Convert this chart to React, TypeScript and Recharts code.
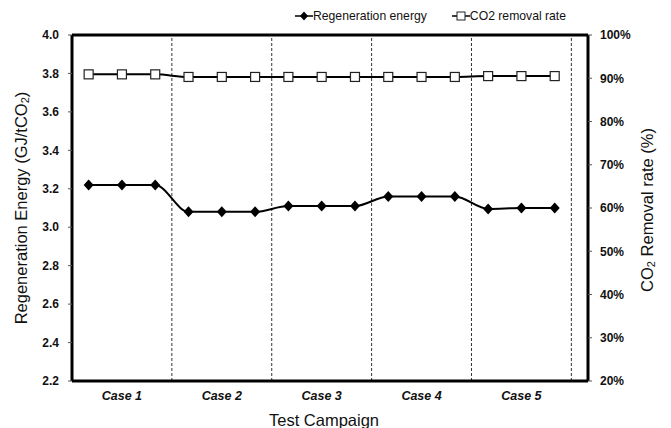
import React from "react";
import { LineChart, Line, XAxis, YAxis, ReferenceLine } from "recharts";

const cases = ["Case 1", "Case 2", "Case 3", "Case 4", "Case 5"];
const runIndex = [0, 1, 2, 3, 4, 5, 6, 7, 8, 9, 10, 11, 12, 13, 14];
const regenEnergy = [3.22, 3.22, 3.22, 3.08, 3.08, 3.08, 3.11, 3.11, 3.11, 3.16, 3.16, 3.16, 3.095, 3.1, 3.1];
const co2Removal = [90.9, 90.9, 90.9, 90.3, 90.3, 90.3, 90.3, 90.3, 90.3, 90.3, 90.3, 90.3, 90.5, 90.5, 90.5];
const caseTicks = [1, 4, 7, 10, 13];
const caseDividers = [2.5, 5.5, 8.5, 11.5, 14.5];
const leftTicks = [2.2, 2.4, 2.6, 2.8, 3.0, 3.2, 3.4, 3.6, 3.8, 4.0];
const rightTicks = [20, 30, 40, 50, 60, 70, 80, 90, 100];

const data = runIndex.map((x, i) => ({
  x,
  regen: regenEnergy[i],
  co2: co2Removal[i],
}));

const font = "'Liberation Sans', Arial, sans-serif";

const Diamond = (props: any) => {
  const { cx, cy, index } = props;
  return (
    <path
      key={`d-${index}`}
      d={`M${cx},${cy - 5.5}L${cx + 5},${cy}L${cx},${cy + 5.5}L${cx - 5},${cy}Z`}
      fill="#000"
    />
  );
};

const Square = (props: any) => {
  const { cx, cy, index } = props;
  return (
    <rect
      key={`s-${index}`}
      x={cx - 4.5}
      y={cy - 4.5}
      width={9}
      height={9}
      fill="#fff"
      stroke="#222"
      strokeWidth={1.2}
    />
  );
};

const LeftLabel = (props: any) => {
  const vb = props.viewBox || {};
  const cy = vb.y + vb.height / 2;
  const cx = 21;
  return (
    <text
      x={cx}
      y={cy}
      transform={`rotate(-90 ${cx} ${cy})`}
      textAnchor="middle"
      dominantBaseline="central"
      fontSize={16.5}
      fontFamily={font}
      fill="#111"
    >
      Regeneration Energy (GJ/tCO
      <tspan fontSize={11} dy={4}>2</tspan>
      <tspan dy={-4}>)</tspan>
    </text>
  );
};

const RightLabel = (props: any) => {
  const vb = props.viewBox || {};
  const cy = vb.y + vb.height / 2 + 2;
  const cx = 647;
  return (
    <text
      x={cx}
      y={cy}
      transform={`rotate(-90 ${cx} ${cy})`}
      textAnchor="middle"
      dominantBaseline="central"
      fontSize={16.5}
      fontFamily={font}
      fill="#111"
    >
      CO
      <tspan fontSize={11} dy={4}>2</tspan>
      <tspan dy={-4}> Removal rate (%)</tspan>
    </text>
  );
};

const BottomLabel = (props: any) => {
  const vb = props.viewBox || {};
  return (
    <text
      x={vb.x + vb.width / 2 - 6}
      y={420}
      textAnchor="middle"
      dominantBaseline="central"
      fontSize={16.5}
      fontFamily={font}
      fill="#111"
    >
      Test Campaign
    </text>
  );
};

const LegendIcon: React.FC<{ kind: "diamond" | "square" }> = ({ kind }) => (
  <svg width={18} height={12} style={{ display: "inline-block", verticalAlign: "middle" }}>
    <line x1={0} y1={6} x2={18} y2={6} stroke="#000" strokeWidth={1.5} />
    {kind === "diamond" ? (
      <path d="M9,1.5L13,6L9,10.5L5,6Z" fill="#000" />
    ) : (
      <rect x={5} y={2} width={8} height={8} fill="#fff" stroke="#222" strokeWidth={1} />
    )}
  </svg>
);

export default function App() {
  return (
    <div style={{ position: "absolute", left: 0, top: 0, width: 671, height: 428, background: "#fff" }}>
      <div
        style={{
          position: "absolute",
          left: 295,
          top: 7,
          fontFamily: font,
          fontSize: 12.2,
          color: "#111",
          whiteSpace: "nowrap",
          lineHeight: "16px",
        }}
      >
        <LegendIcon kind="diamond" />
        <span style={{ verticalAlign: "middle" }}>Regeneration energy</span>
        <span style={{ display: "inline-block", width: 25 }} />
        <LegendIcon kind="square" />
        <span style={{ verticalAlign: "middle" }}>CO2 removal rate</span>
      </div>
      <LineChart width={671} height={428} data={data} margin={{ top: 35, right: 0, bottom: 0, left: 0 }}>
        <XAxis
          dataKey="x"
          type="number"
          domain={[-0.5, 15]}
          ticks={caseTicks}
          tickFormatter={(v: number) => cases[caseTicks.indexOf(v)]}
          tickLine={false}
          tickSize={0}
          tickMargin={10}
          height={47}
          axisLine={{ stroke: "#000", strokeWidth: 3 }}
          tick={{ fill: "#111", fontSize: 12.5, fontWeight: "bold", fontStyle: "italic", fontFamily: font }}
          label={<BottomLabel />}
          allowDataOverflow
        />
        <YAxis
          yAxisId="left"
          domain={[2.2, 4.0]}
          ticks={leftTicks}
          tickFormatter={(v: number) => v.toFixed(1)}
          width={72}
          tickSize={4}
          tickMargin={9}
          axisLine={{ stroke: "#000", strokeWidth: 3 }}
          tickLine={{ stroke: "#555" }}
          tick={{ fill: "#111", fontSize: 12, fontWeight: "bold", fontFamily: font }}
          label={<LeftLabel />}
          allowDataOverflow
        />
        <YAxis
          yAxisId="right"
          orientation="right"
          domain={[20, 100]}
          ticks={rightTicks}
          tickFormatter={(v: number) => `${v}%`}
          width={83}
          tickSize={4}
          tickMargin={8}
          axisLine={{ stroke: "#000", strokeWidth: 3 }}
          tickLine={{ stroke: "#555" }}
          tick={{ fill: "#111", fontSize: 12, fontWeight: "bold", fontFamily: font, textAnchor: "start" }}
          label={<RightLabel />}
          allowDataOverflow
        />
        {caseDividers.map((d) => (
          <ReferenceLine key={d} x={d} yAxisId="left" stroke="#333" strokeDasharray="3 2" strokeWidth={1} />
        ))}
        <ReferenceLine y={4.0} yAxisId="left" stroke="#000" strokeWidth={3} />
        <Line
          yAxisId="left"
          dataKey="regen"
          name="Regeneration energy"
          type="monotone"
          stroke="#000"
          strokeWidth={2}
          dot={Diamond}
          activeDot={false}
          isAnimationActive={false}
        />
        <Line
          yAxisId="right"
          dataKey="co2"
          name="CO2 removal rate"
          type="monotone"
          stroke="#000"
          strokeWidth={2}
          dot={Square}
          activeDot={false}
          isAnimationActive={false}
        />
      </LineChart>
    </div>
  );
}
